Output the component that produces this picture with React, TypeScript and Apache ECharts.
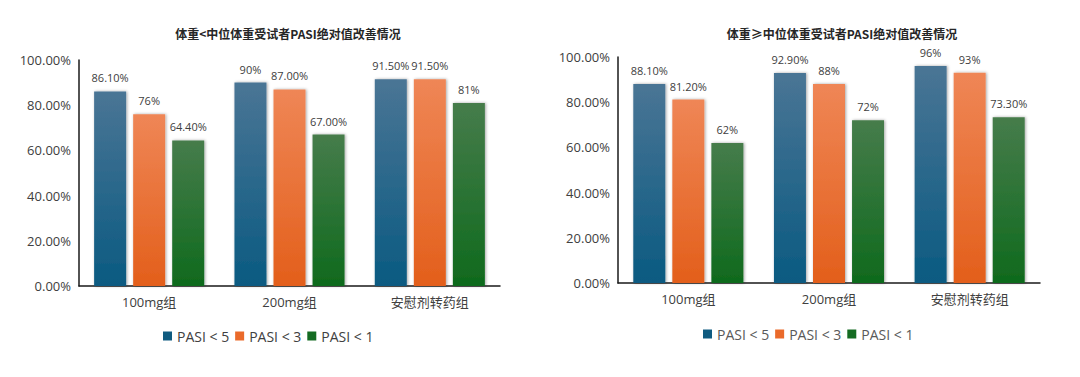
import React, { useEffect, useRef } from "react";
import * as echarts from "echarts";

const categories = ["100mg组", "200mg组", "安慰剂转药组"];
const seriesNames = ["PASI < 5", "PASI < 3", "PASI < 1"];

const leftTitle = "体重<中位体重受试者PASI绝对值改善情况";
const leftPasi5 = [86.1, 90, 91.5];
const leftPasi3 = [76, 87, 91.5];
const leftPasi1 = [64.4, 67, 81];
const leftLabels5 = ["86.10%", "90%", "91.50%"];
const leftLabels3 = ["76%", "87.00%", "91.50%"];
const leftLabels1 = ["64.40%", "67.00%", "81%"];

const rightTitle = "体重≥中位体重受试者PASI绝对值改善情况";
const rightPasi5 = [88.1, 92.9, 96];
const rightPasi3 = [81.2, 88, 93];
const rightPasi1 = [62, 72, 73.3];
const rightLabels5 = ["88.10%", "92.90%", "96%"];
const rightLabels3 = ["81.20%", "88%", "93%"];
const rightLabels1 = ["62%", "72%", "73.30%"];

const colorsTop = ["#4a7595", "#ef8656", "#467c4b"];
const colorsBottom = ["#0a5a81", "#e35f1b", "#0f6a1d"];
const legendColors = ["#0f5b80", "#ea6a2a", "#146b22"];

const FONT = "'Open Sans', 'Noto Sans CJK SC', sans-serif";
const TFONT = "'Noto Sans CJK SC', sans-serif";

function grad(i: number) {
  return new echarts.graphic.LinearGradient(0, 0, 0, 1, [
    { offset: 0, color: colorsTop[i] },
    { offset: 1, color: colorsBottom[i] },
  ]);
}

export default function App() {
  const ref = useRef<HTMLDivElement>(null);
  useEffect(() => {
    if (!ref.current) return;
    const chart = echarts.init(ref.current, undefined, { renderer: "svg" });
    const grids = [
      { left: 79, right: 580, top: 60, bottom: 91 },
      { left: 618, right: 40, top: 57, bottom: 94 },
    ];
    const data = [
      { vals: [leftPasi5, leftPasi3, leftPasi1], labels: [leftLabels5, leftLabels3, leftLabels1] },
      { vals: [rightPasi5, rightPasi3, rightPasi1], labels: [rightLabels5, rightLabels3, rightLabels1] },
    ];
    const series: any[] = [];
    data.forEach((d, gi) => {
      d.vals.forEach((v, si) => {
        series.push({
          type: "bar",
          name: seriesNames[si],
          xAxisIndex: gi,
          yAxisIndex: gi,
          barWidth: 32,
          barGap: "22%",
          data: v.map((val, k) => ({
            value: val,
            label: { formatter: d.labels[si][k] },
          })),
          itemStyle: {
            color: grad(si),
            shadowBlur: 3,
            shadowColor: "rgba(0,0,0,0.35)",
            shadowOffsetX: 1,
            shadowOffsetY: 0,
          },
          label: {
            show: true,
            position: "top",
            distance: 8,
            color: "#404040",
            fontSize: 11,
            fontFamily: FONT,
          },
        });
      });
    });
    const legendData = seriesNames.map((n, i) => ({ name: n, itemStyle: { color: legendColors[i] } }));
    chart.setOption({
      animation: false,
      backgroundColor: "#ffffff",
      title: [
        {
          text: leftTitle,
          left: 283,
          top: 22,
          textAlign: "center",
          textStyle: { fontSize: 12, fontWeight: "bold", color: "#262626", fontFamily: TFONT },
        },
        {
          text: rightTitle,
          left: 837,
          top: 22,
          textAlign: "center",
          textStyle: { fontSize: 12, fontWeight: "bold", color: "#262626", fontFamily: TFONT },
        },
      ],
      legend: [
        {
          data: legendData,
          left: 158,
          top: 324,
          itemWidth: 9,
          itemHeight: 9,
          itemGap: 6,
          icon: "rect",
          textStyle: { fontSize: 14, color: "#404040", fontFamily: FONT },
        },
        {
          data: legendData,
          left: 698,
          top: 322,
          itemWidth: 9,
          itemHeight: 9,
          itemGap: 6,
          icon: "rect",
          textStyle: { fontSize: 14, color: "#595959", fontFamily: FONT },
        },
      ],
      grid: grids,
      xAxis: [0, 1].map((i) => ({
        type: "category",
        gridIndex: i,
        data: categories,
        axisLine: { lineStyle: { color: "#1a1a1a", width: 1.5 } },
        axisTick: { show: false },
        axisLabel: { color: "#404040", fontSize: 13, margin: 9, fontFamily: FONT },
      })),
      yAxis: [0, 1].map((i) => ({
        type: "value",
        gridIndex: i,
        min: 0,
        max: 100,
        interval: 20,
        axisLine: { show: true, lineStyle: { color: "#1a1a1a", width: 1.5 } },
        axisTick: { show: false },
        splitLine: { show: false },
        axisLabel: {
          color: "#404040",
          fontSize: 13,
          margin: 8,
          fontFamily: FONT,
          formatter: (v: number) => v.toFixed(2) + "%",
        },
      })),
      series,
    });
    return () => chart.dispose();
  }, []);
  return (
    <div
      ref={ref}
      style={{ position: "fixed", left: 0, top: 0, width: 1080, height: 377, background: "#fff" }}
    />
  );
}
